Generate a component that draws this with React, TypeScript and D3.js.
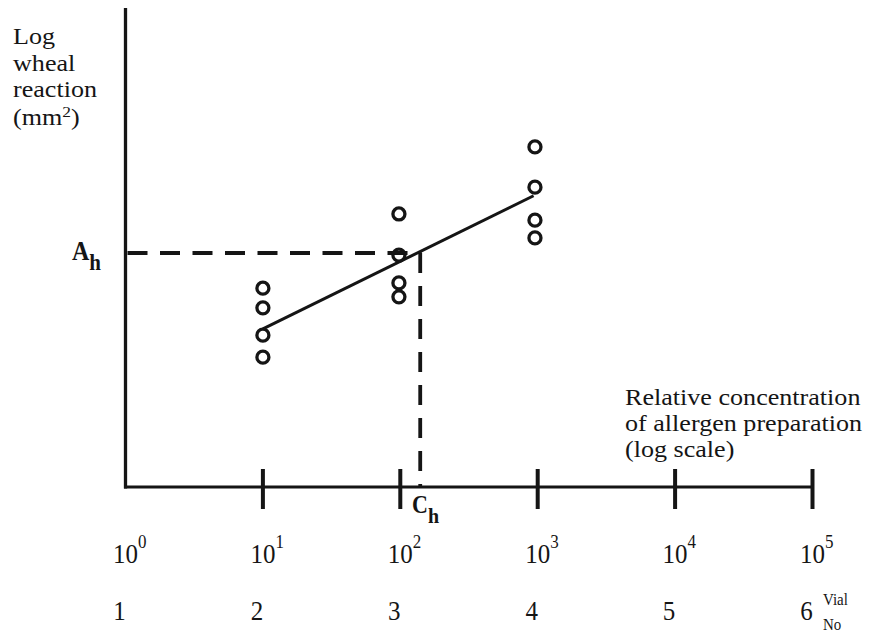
import React from "react";
import * as d3 from "d3";

// ---- data ----
const concExponents = [0, 1, 2, 3, 4, 5];
const vialNumbers = [1, 2, 3, 4, 5, 6];
const tickPositions = [1, 2, 3, 4, 5];
const groupLog = [1, 1.99, 2.98];
const groupValues = [
  [4.15, 3.74, 3.17, 2.71],
  [5.7, 4.84, 4.26, 3.97],
  [7.1, 6.26, 5.57, 5.2],
];
const fitLine = [
  { x: 1.0, y: 3.3 },
  { x: 2.97, y: 6.08 },
];
const Ah = 4.885;
const Ch = 2.145;
const yLabelLines = ["Log", "wheal", "reaction"];
const xLabelLines = ["Relative concentration", "of allergen preparation", "(log scale)"];

const W = 875;
const H = 637;
const INK = "#151515";
const FONT = "'Liberation Serif', 'Times New Roman', serif";

function T({ x, y, size, weight, anchor, sx = 1, sy = 1, children }: any) {
  return (
    <g transform={`translate(${x},${y}) scale(${sx},${sy})`}>
      <text
        x={0}
        y={0}
        fontFamily={FONT}
        fontSize={size}
        fontWeight={weight || "normal"}
        textAnchor={anchor || "start"}
        fill={INK}
      >
        {children}
      </text>
    </g>
  );
}

export default function App() {
  const x = d3.scaleLinear().domain([0, 5]).range([125.5, 812.5]);
  const y = d3.scaleLinear().domain([0, 10]).range([487, 8]);
  const line = d3
    .line<{ x: number; y: number }>()
    .x((d) => x(d.x))
    .y((d) => y(d.y));

  const x0 = x(0);
  const y0 = y(0);

  return (
    <svg
      width={W}
      height={H}
      style={{ position: "absolute", left: 0, top: 0, background: "#fff" }}
    >
      <rect x={0} y={0} width={W} height={H} fill="#fff" />

      {/* axes */}
      <line x1={x0} y1={y(10)} x2={x0} y2={y0 + 1.5} stroke={INK} strokeWidth={3.3} />
      <line x1={x0 - 1.5} y1={y0} x2={x(5)} y2={y0} stroke={INK} strokeWidth={3.2} />
      {tickPositions.map((t) => (
        <line
          key={t}
          x1={x(t)}
          x2={x(t)}
          y1={y0 - 18}
          y2={y0 + 22}
          stroke={INK}
          strokeWidth={4}
        />
      ))}

      {/* dashed guide lines */}
      <line
        x1={x0 + 2}
        y1={y(Ah)}
        x2={x(Ch) + 1.5}
        y2={y(Ah)}
        stroke={INK}
        strokeWidth={4}
        strokeDasharray="20 12.5"
      />
      <line
        x1={x(Ch)}
        y1={y(Ah)}
        x2={x(Ch)}
        y2={y0}
        stroke={INK}
        strokeWidth={3.8}
        strokeDasharray="20 13"
      />

      {/* fit line */}
      <path d={line(fitLine) || ""} fill="none" stroke={INK} strokeWidth={3} />

      {/* points */}
      {groupValues.map((vals, gi) =>
        vals.map((v, i) => (
          <circle
            key={`${gi}-${i}`}
            cx={x(groupLog[gi])}
            cy={y(v)}
            r={6}
            fill="none"
            stroke={INK}
            strokeWidth={3.3}
          />
        ))
      )}

      {/* Y axis label */}
      {yLabelLines.map((s, i) => (
        <T key={s} x={13} y={44 + i * 26.5} size={22.5} sx={1.16}>
          {s}
        </T>
      ))}
      <T x={13} y={125} size={22.5} sx={1.16}>
        (mm
        <tspan fontSize={15} dy={-8}>2</tspan>
        <tspan dy={8}>)</tspan>
      </T>

      {/* X axis label */}
      {xLabelLines.map((s, i) => (
        <T key={s} x={625} y={405 + i * 26} size={22.5} sx={1.16}>
          {s}
        </T>
      ))}

      {/* A_h */}
      <T x={72} y={260} size={24} weight="bold" sy={1.1}>
        A
        <tspan fontSize={21} dy={9}>h</tspan>
      </T>

      {/* C_h */}
      <T x={412} y={513} size={22} weight="bold" sy={1.1}>
        C
        <tspan fontSize={20} dy={9}>h</tspan>
      </T>

      {/* concentration tick labels */}
      {concExponents.map((e) => (
        <T key={e} x={x(e) - 12.5} y={563} size={25} sy={1.12}>
          10
          <tspan fontSize={17} dy={-13}>{String(e)}</tspan>
        </T>
      ))}

      {/* vial numbers */}
      {vialNumbers.map((n, i) => (
        <T key={n} x={x(i) - 6} y={620} size={25} anchor="middle" sy={1.12}>
          {String(n)}
        </T>
      ))}
      <T x={823} y={605} size={15} sy={1.1}>
        Vial
      </T>
      <T x={823} y={630} size={15} sy={1.1}>
        No
      </T>
    </svg>
  );
}
